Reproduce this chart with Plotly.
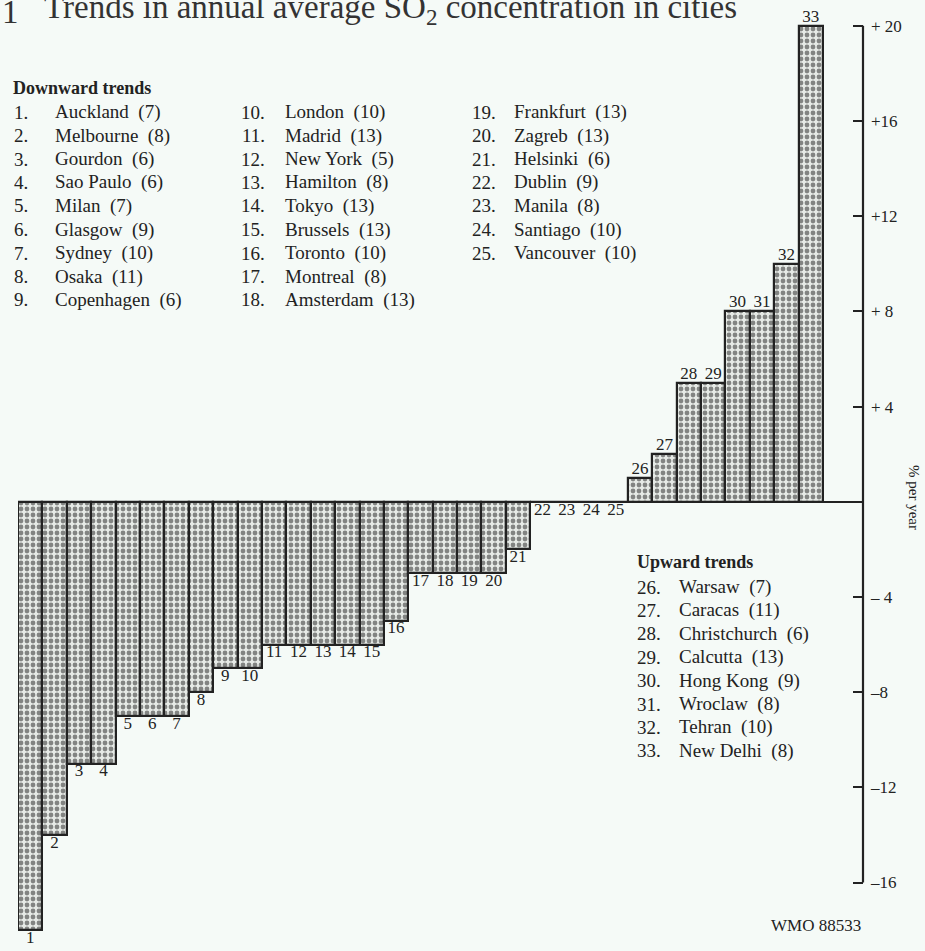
import plotly.graph_objects as go

# ---------------- data ----------------
bar_ids = list(range(1, 34))
trend_values = [-18, -14, -11, -11, -9, -9, -9, -8, -7, -7,
                -6, -6, -6, -6, -6, -5, -3, -3, -3, -3,
                -2, 0, 0, 0, 0, 1, 2, 5, 5, 8, 8, 10, 20]
cities = ["Auckland", "Melbourne", "Gourdon", "Sao Paulo", "Milan", "Glasgow",
          "Sydney", "Osaka", "Copenhagen", "London", "Madrid", "New York",
          "Hamilton", "Tokyo", "Brussels", "Toronto", "Montreal", "Amsterdam",
          "Frankfurt", "Zagreb", "Helsinki", "Dublin", "Manila", "Santiago",
          "Vancouver", "Warsaw", "Caracas", "Christchurch", "Calcutta",
          "Hong Kong", "Wroclaw", "Tehran", "New Delhi"]
n_years = [7, 8, 6, 6, 7, 9, 10, 11, 6, 10, 13, 5, 8, 13, 13, 10, 8, 13,
           13, 13, 6, 9, 8, 10, 10, 7, 11, 6, 13, 9, 8, 10, 8]
tick_vals = [-16, -12, -8, -4, 4, 8, 12, 16, 20]
tick_text = ["\u201316", "\u201312", "\u20138", "\u2013 4", "+ 4", "+ 8", "+12", "+16", "+ 20"]

# ---------------- layout geometry ----------------
W, H = 925, 951
ML, MR, MT, MB = 18, 62, 2, 9
PW, PH = W - ML - MR, H - MT - MB
Y_RANGE = [-18.5, 21]
n_bars = len(bar_ids)
slot_px = 805 / n_bars
X_RANGE = [0.5, 0.5 + PW / slot_px]

BG = "#f5faf7"
INK = "#222222"
SERIF = "Liberation Serif, Times New Roman, serif"


def px(x, y):
    """pixel -> paper coords"""
    return (x - ML) / PW, (H - MB - y) / PH


fig = go.Figure()

fig.add_trace(go.Bar(
    x=bar_ids, y=trend_values, width=1,
    marker=dict(color="#e6e9e6",
                line=dict(color=INK, width=2.2),
                pattern=dict(shape=".", fgcolor="#1e1e1e", bgcolor="#e6eae6",
                             size=6, solidity=0.5)),
    hoverinfo="skip", showlegend=False,
))

label_pos = ["top center" if v > 0 else "bottom center" for v in trend_values]
fig.add_trace(go.Scatter(
    x=bar_ids, y=trend_values, mode="text",
    text=[str(i) for i in bar_ids], textposition=label_pos,
    textfont=dict(family=SERIF, size=17, color=INK),
    cliponaxis=False, hoverinfo="skip", showlegend=False,
))

annotations = []

# title (partly cut off at the top edge like the source scan)
tx, ty = px(0, 32)
annotations.append(dict(xref="paper", yref="paper", x=tx, y=ty, xanchor="left", yanchor="bottom",
                        text="1", showarrow=False, font=dict(family=SERIF, size=33, color="#333")))
tx, ty = px(42, 32)
annotations.append(dict(xref="paper", yref="paper", x=tx, y=ty, xanchor="left", yanchor="bottom",
                        text="Trends in annual average SO<sub>2</sub> concentration in cities",
                        showarrow=False, font=dict(family=SERIF, size=33, color="#333")))

# legend blocks
lf = dict(family=SERIF, size=19, color=INK)
hx, hy = px(11, 88)
annotations.append(dict(xref="paper", yref="paper", x=hx, y=hy, xanchor="left", yanchor="middle",
                        text="<b>Downward trends</b>", showarrow=False,
                        font=dict(family=SERIF, size=18, color=INK)))
col_num_right = [30, 267, 498]
col_name_left = [53, 283, 512]
row0, dy = 112, 23.5
for i in range(25):
    col = i // 9
    row = i % 9
    yy = row0 + row * dy
    nx, ny = px(col_num_right[col], yy)
    annotations.append(dict(xref="paper", yref="paper", x=nx, y=ny, xanchor="right", yanchor="middle",
                            text=f"{bar_ids[i]}.", showarrow=False, font=lf))
    cx, cy = px(col_name_left[col], yy)
    annotations.append(dict(xref="paper", yref="paper", x=cx, y=cy, xanchor="left", yanchor="middle",
                            text=f"{cities[i]}  ({n_years[i]})", showarrow=False, font=lf))

ux, uy = px(635, 562)
annotations.append(dict(xref="paper", yref="paper", x=ux, y=uy, xanchor="left", yanchor="middle",
                        text="<b>Upward trends</b>", showarrow=False,
                        font=dict(family=SERIF, size=18, color=INK)))
for k, i in enumerate(range(25, 33)):
    yy = 587 + k * 23.4
    nx, ny = px(635, yy)
    annotations.append(dict(xref="paper", yref="paper", x=nx, y=ny, xanchor="left", yanchor="middle",
                            text=f"{bar_ids[i]}.", showarrow=False, font=lf))
    cx, cy = px(677, yy)
    annotations.append(dict(xref="paper", yref="paper", x=cx, y=cy, xanchor="left", yanchor="middle",
                            text=f"{cities[i]}  ({n_years[i]})", showarrow=False, font=lf))

# axis title
ax_, ay_ = px(914, 497)
annotations.append(dict(xref="paper", yref="paper", x=ax_, y=ay_, xanchor="center", yanchor="middle",
                        text="% per year", textangle=90, showarrow=False,
                        font=dict(family=SERIF, size=15, color=INK)))
# source id
wx, wy = px(816, 925)
annotations.append(dict(xref="paper", yref="paper", x=wx, y=wy, xanchor="center", yanchor="middle",
                        text="WMO 88533", showarrow=False, font=dict(family=SERIF, size=17, color=INK)))

shapes = [dict(type="line", xref="paper", yref="y", x0=1, x1=1, y0=tick_vals[0], y1=tick_vals[-1],
               line=dict(color=INK, width=2.2))]

fig.update_layout(
    width=W, height=H,
    margin=dict(l=ML, r=MR, t=MT, b=MB),
    paper_bgcolor=BG, plot_bgcolor=BG,
    bargap=0,
    xaxis=dict(range=X_RANGE, visible=False, fixedrange=True),
    yaxis=dict(range=Y_RANGE, side="right", showgrid=False, showline=False,
               zeroline=True, zerolinecolor=INK, zerolinewidth=2.2,
               tickmode="array", tickvals=tick_vals, ticktext=tick_text,
               ticks="inside", ticklen=10, tickwidth=2.2, tickcolor=INK,
               ticklabelstandoff=7, fixedrange=True,
               tickfont=dict(family=SERIF, size=17, color=INK)),
    annotations=annotations,
    shapes=shapes,
    showlegend=False,
)

fig.write_html("out.html",
               config={"displayModeBar": False},
               post_script="document.body.style.margin='0';document.body.style.background='" + BG + "';")
